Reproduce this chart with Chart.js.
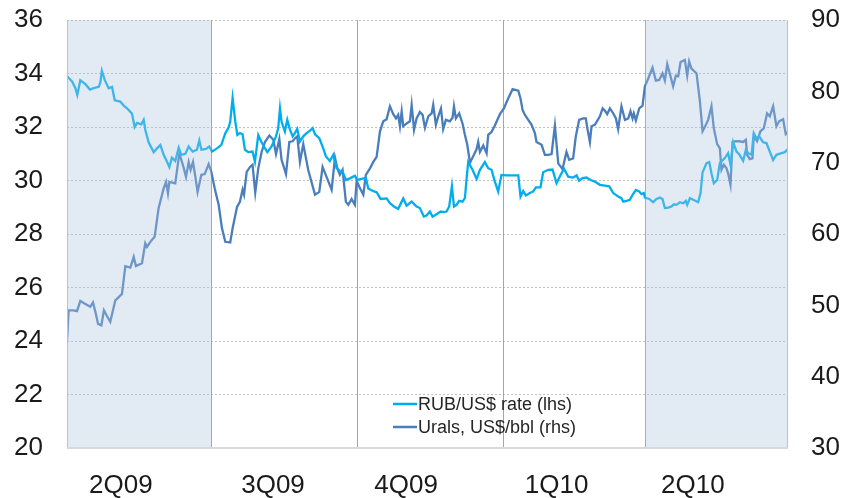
<!DOCTYPE html>
<html lang="en">
<head>
<meta charset="UTF-8">
<title>RUB/US$ rate and Urals</title>
<script src="https://cdn.jsdelivr.net/npm/chart.js@4.4.1/dist/chart.umd.min.js"></script>
<style>
  html, body { margin: 0; padding: 0; background: #fff; }
  #wrap { width: 848px; height: 498px; }
</style>
</head>
<body>
<div id="wrap"><canvas id="chart"></canvas></div>
<script>
// x values are days counted from 1 Apr 2009
const quarterLabels = ['2Q09', '3Q09', '4Q09', '1Q10', '2Q10'];
const quarterLabelDays = [34, 130, 214, 309, 395];
const quarterStarts = [0, 91, 183, 275, 365, 456];
const shadedQuarters = [0, 4];

const rubDays = [0, 3.2, 5.3, 6.5, 8.4, 11.6, 14.5, 16.8, 20, 21, 22, 23.8, 26.3, 28.4, 30.1, 33.6, 35.8, 37.9, 41, 42.7,
  44.2, 46.9, 48.4, 49.4, 51.5, 54.7, 56.8, 58.9, 61, 63.1, 64.6, 66.2, 68.3, 70.5, 72.1, 74.7, 76.8, 79.3, 82, 83.5,
  84.8, 87.7, 89.8, 91.5, 94.6, 97.4, 99.9, 102, 103, 104.5, 106.2, 107.5, 109.1, 110.8, 112.3, 114.4, 117.1, 118.6, 120.7, 122.8,
  124.3, 126.4, 129.1, 131.9, 133.3, 134.4, 135.4, 137.5, 139, 140.7, 142.4, 143.8, 145.3, 147, 149.1, 151.2, 153.3, 155, 156.5, 159.2,
  161.3, 163.4, 165.9, 168, 170.1, 172.2, 174.3, 176, 178.5, 181.7, 183.2, 185.9, 188.6, 190.1, 193.3, 195.4, 197.9, 201.7, 203.8, 206.3,
  209, 212.2, 214.3, 217.5, 220.6, 222.7, 225.2, 226.9, 229, 230.7, 233.2, 235.8, 237.9, 239.5, 241.2, 242.9, 244.2, 245.8, 247.5, 249.6,
  251.1, 252.2, 253.2, 255.9, 258.5, 260.6, 263.7, 265.8, 267.9, 270, 272.1, 274.2, 277.4, 281.6, 284.8, 286.2, 287.9, 289.6, 292.1, 294.2,
  295.9, 298.8, 300.5, 303.7, 306.4, 308.9, 311, 313.6, 316.3, 319.4, 321.6, 323.2, 325.3, 327.9, 330.4, 333.1, 336.3, 339.4, 342.2, 344.7,
  347.8, 349.9, 351, 353.1, 355.2, 356.9, 359, 361.1, 362.6, 364, 364.7, 367.4, 369.9, 372, 374.1, 375.8, 377.3, 379.4, 381.5, 383,
  384.6, 386.8, 388.9, 390.5, 391.4, 393.1, 395.2, 398.3, 399.8, 401.1, 403.6, 405.3, 406.7, 408.2, 410.3, 412, 415.1, 417.2, 418.7, 420.4,
  422.5, 424.2, 426.7, 428.4, 429.9, 432, 433.4, 435.1, 436.8, 439.3, 441.4, 443.5, 445.6, 447.7, 450.9, 453, 455];
const rubRate = [33.9, 33.7, 33.45, 33.2, 33.75, 33.6, 33.4, 33.45, 33.5, 33.65, 34.1, 33.76, 33.45, 33.5, 33.0, 32.95, 32.8, 32.7, 32.5, 32.0,
  32.15, 32.1, 32.27, 31.9, 31.43, 31.06, 31.2, 31.33, 30.96, 30.7, 30.5, 30.85, 30.73, 31.23, 30.96, 31.0, 31.27, 31.08, 31.15, 31.5,
  31.15, 31.18, 31.27, 31.08, 31.2, 31.33, 31.77, 31.98, 32.2, 33.08, 32.2, 31.7, 31.77, 31.73, 31.15, 31.06, 31.08, 30.7, 31.7, 31.43,
  31.27, 31.06, 31.27, 31.65, 31.96, 32.7, 32.2, 31.83, 32.27, 31.9, 31.65, 31.77, 31.93, 31.46, 31.65, 31.77, 31.86, 31.96, 31.73, 31.58,
  31.27, 30.9, 30.73, 30.96, 30.46, 30.36, 30.27, 30.02, 30.08, 30.18, 30.02, 30.06, 30.1, 29.7, 29.6, 29.56, 29.31, 29.33, 29.15, 29.03,
  28.94, 29.33, 29.06, 29.21, 29.03, 28.97, 28.65, 28.69, 28.84, 28.65, 28.74, 28.84, 28.82, 28.84, 29.03, 29.78, 29.03, 29.09, 29.24, 29.21,
  29.34, 30.09, 30.69, 30.4, 30.06, 30.4, 30.69, 30.46, 30.4, 29.96, 29.59, 30.21, 30.19, 30.19, 30.19, 29.4, 29.61, 29.44, 29.53, 29.59,
  29.74, 29.74, 30.31, 30.4, 30.41, 29.9, 30.15, 30.44, 30.14, 30.11, 30.19, 29.99, 30.09, 30.11, 30.02, 29.96, 29.84, 29.81, 29.78, 29.53,
  29.4, 29.34, 29.21, 29.24, 29.28, 29.46, 29.65, 29.59, 29.49, 29.53, 29.36, 29.31, 29.19, 29.31, 29.36, 29.31, 28.97, 28.99, 29.03, 29.11,
  29.09, 29.19, 29.15, 29.24, 29.09, 29.34, 29.28, 29.19, 29.53, 30.31, 30.65, 30.69, 30.27, 29.9, 30.02, 30.65, 30.84, 31.02, 30.59, 31.43,
  31.08, 30.98, 30.74, 31.15, 31.02, 30.96, 31.77, 31.58, 31.65, 31.43, 31.4, 31.08, 30.77, 30.96, 31.02, 31.06, 31.18];

const uralsDays = [0, 1, 4.2, 6.3, 8.4, 11.6, 14.7, 16.4, 17.9, 19.6, 21.7, 23.3, 25.2, 27.3, 28.8, 30.5, 34.7, 36.8, 40, 42.1,
  43.5, 47.3, 49.4, 50.5, 52.6, 55.3, 57.8, 61, 62.5, 63.7, 64.6, 68.3, 70.9, 73.6, 75.1, 76.8, 78, 79.5, 81, 82.4,
  84.8, 86.9, 89.4, 91.1, 93.2, 95.7, 97.8, 99.9, 103, 104.5, 107.3, 109.1, 110.8, 111.7, 113.4, 115.5, 117.1, 118.8, 120.7, 122.8,
  124.9, 127.7, 130.2, 131.9, 134, 135.4, 138.2, 140.3, 142.4, 143.8, 145.3, 147, 149.1, 152.2, 156.5, 159.2, 161.3, 163.8, 167, 169.1,
  170.6, 172.2, 173.9, 176, 177.5, 179.6, 181.7, 182.8, 184.9, 187, 188.6, 191.2, 193.3, 195.4, 197.5, 199.6, 201.7, 203.8, 205.9, 207.6,
  209, 210.1, 211.2, 212.2, 214.3, 216.4, 217.5, 219, 220.6, 222.7, 224.4, 225.9, 228, 230.1, 231.1, 232.8, 234.3, 236, 237.4, 239.1,
  241.6, 243.3, 244.2, 245.4, 247.5, 249.6, 251.1, 252.6, 254.3, 256.8, 258.5, 259.5, 260.6, 262.7, 264.8, 265.8, 267.9, 270, 273.2, 275.7,
  278.4, 281.2, 284.8, 286.2, 287.5, 289, 291.1, 293.2, 295.3, 296.3, 299.5, 301.6, 303.7, 305.8, 307.9, 310, 312.7, 315.2, 316.9, 319.4,
  321.1, 323.2, 325.8, 327.4, 328.3, 330, 331, 333.1, 336.3, 338, 339.4, 340.9, 342.6, 344.7, 346.4, 347.8, 349.9, 352.1, 354.2, 355.6,
  356.9, 357.7, 359, 361.1, 363.2, 364.7, 366.8, 369.5, 371.6, 373.7, 375.8, 377.3, 378.8, 380.4, 382.5, 384.2, 385.7, 387.2, 389.9, 391.4,
  392.6, 394.1, 397.3, 399.4, 401.1, 403.2, 404.6, 406.7, 408.2, 410.3, 412, 413, 414.5, 416.2, 417.2, 418.7, 420, 422.1, 424.2, 426.7,
  428.4, 429.2, 430.9, 432.6, 433.4, 435.5, 437.6, 439.7, 441.8, 443.5, 445.6, 447.7, 449.4, 451.9, 453.6, 455];
const uralsPrice = [44.9, 49.3, 49.3, 49.2, 50.6, 50.2, 49.8, 50.4, 49.1, 47.4, 47.2, 49.3, 48.5, 47.7, 49.1, 50.7, 51.6, 55.5, 55.3, 56.8,
  55.5, 55.9, 58.7, 58.2, 58.9, 59.6, 63.6, 66.4, 67.3, 65.7, 67.3, 67.1, 71.3, 69.3, 68.0, 70.1, 69.0, 70.1, 68.0, 65.9,
  68.3, 68.4, 69.8, 68.7, 66.4, 64.1, 60.8, 58.9, 58.8, 60.8, 63.8, 64.5, 66.2, 65.5, 68.7, 69.4, 69.7, 65.8, 69.2, 71.5,
  72.9, 73.8, 73.2, 71.2, 73.3, 70.4, 68.4, 72.9, 73.0, 73.4, 73.7, 70.1, 72.6, 69.0, 65.5, 65.9, 69.4, 68.0, 66.2, 70.7,
  69.2, 68.3, 69.0, 64.5, 64.1, 64.9, 64.1, 67.5, 66.4, 65.5, 68.3, 69.2, 70.1, 70.8, 74.4, 75.8, 76.1, 77.9, 76.8, 76.2,
  76.7, 75.1, 77.2, 75.1, 75.5, 75.8, 78.1, 74.6, 76.2, 77.1, 76.7, 74.9, 76.5, 76.9, 78.1, 75.3, 76.5, 77.6, 74.7, 76.0,
  75.8, 76.3, 77.9, 76.2, 76.9, 75.5, 73.9, 72.5, 70.0, 71.1, 71.9, 72.9, 71.5, 72.4, 71.3, 73.9, 74.3, 75.2, 76.8, 77.6,
  79.0, 80.3, 80.1, 79.0, 77.4, 76.7, 76.0, 75.3, 74.1, 72.9, 72.5, 71.1, 71.1, 71.2, 75.2, 69.9, 69.1, 71.5, 70.4, 70.6,
  73.7, 76.0, 76.2, 76.2, 74.9, 72.9, 75.1, 75.3, 76.5, 77.6, 77.3, 76.8, 77.6, 76.9, 76.2, 74.7, 77.9, 76.0, 76.2, 77.2,
  76.2, 76.9, 75.9, 77.6, 78.0, 80.7, 81.8, 83.3, 81.5, 81.6, 82.5, 81.5, 83.8, 82.5, 80.7, 82.2, 82.1, 84.1, 84.4, 82.2,
  84.2, 83.2, 82.5, 78.6, 74.4, 75.3, 76.0, 77.9, 74.8, 72.6, 72.0, 69.0, 69.7, 69.2, 68.5, 66.9, 72.9, 73.0, 73.0, 72.9,
  73.2, 71.1, 70.5, 70.6, 73.7, 73.0, 74.4, 74.8, 76.9, 76.5, 77.9, 75.1, 75.8, 76.1, 74.0, 74.3];

const FONT = '"Liberation Sans", Arial, sans-serif';

// shading, quarter lines, frame and the legend inside the plot
const framePlugin = {
  id: 'framePlugin',
  beforeDatasetsDraw(chart) {
    const { ctx, chartArea: a, scales: { x } } = chart;
    ctx.save();
    ctx.strokeStyle = '#a6a6a6';
    ctx.lineWidth = 1;
    quarterStarts.slice(1, -1).forEach(d => {
      const px = Math.round(x.getPixelForValue(d)) + 0.5;
      ctx.beginPath();
      ctx.moveTo(px, a.top);
      ctx.lineTo(px, a.bottom);
      ctx.stroke();
    });
    ctx.restore();
  },
  afterDatasetsDraw(chart) {
    const { ctx, chartArea: a, scales: { x } } = chart;
    ctx.save();
    ctx.fillStyle = 'rgba(175,197,225,0.36)';
    shadedQuarters.forEach(q => {
      const x1 = Math.max(a.left, x.getPixelForValue(quarterStarts[q]));
      const x2 = Math.min(a.right, x.getPixelForValue(quarterStarts[q + 1]));
      ctx.fillRect(x1, a.top, x2 - x1, a.bottom - a.top);
    });
    ctx.strokeStyle = '#c0c0c0';
    ctx.lineWidth = 1;
    [Math.round(a.left) + 0.5, Math.round(a.right) - 0.5].forEach(px => {
      ctx.beginPath();
      ctx.moveTo(px, a.top);
      ctx.lineTo(px, a.bottom);
      ctx.stroke();
    });
    ctx.strokeStyle = '#d9d9d9';
    ctx.lineWidth = 2;
    ctx.beginPath();
    ctx.moveTo(a.left, a.bottom);
    ctx.lineTo(a.right, a.bottom);
    ctx.stroke();

    // legend
    ctx.font = '18px ' + FONT;
    ctx.textBaseline = 'middle';
    ctx.textAlign = 'left';
    chart.data.datasets.forEach((ds, i) => {
      const y = a.bottom - 44 + i * 23;
      const lx = a.left + 326;
      ctx.strokeStyle = ds.borderColor;
      ctx.lineWidth = 2.5;
      ctx.beginPath();
      ctx.moveTo(lx, y);
      ctx.lineTo(lx + 24, y);
      ctx.stroke();
      ctx.fillStyle = '#262626';
      ctx.fillText(ds.label, lx + 25, y + 1);
    });
    ctx.restore();
  }
};

// fixed axis sizes so the plot area sits where it does in the original
function fixVertical(width) {
  return scale => {
    scale.width = width;
    scale.paddingTop = 0;
    scale.paddingBottom = 0;
  };
}

new Chart(document.getElementById('chart'), {
  type: 'line',
  data: {
    datasets: [{
      label: 'RUB/US$ rate (lhs)',
      data: rubDays.map((d, i) => ({ x: d, y: rubRate[i] })),
      borderColor: '#00aeef',
      borderWidth: 2.3,
      pointRadius: 0,
      tension: 0,
      yAxisID: 'y'
    }, {
      label: 'Urals, US$/bbl (rhs)',
      data: uralsDays.map((d, i) => ({ x: d, y: uralsPrice[i] })),
      borderColor: '#4a7ebb',
      borderWidth: 2.3,
      pointRadius: 0,
      tension: 0,
      yAxisID: 'y1'
    }]
  },
  options: {
    responsive: true,
    maintainAspectRatio: false,
    animation: false,
    devicePixelRatio: 1,
    layout: { autoPadding: false, padding: { left: 0, right: 0, top: 20, bottom: 0 } },
    plugins: { legend: { display: false }, tooltip: { enabled: false } },
    scales: {
      x: {
        type: 'linear',
        min: 0,
        max: 455,
        grid: { display: false },
        border: { display: false },
        afterFit: scale => { scale.height = 50; scale.paddingLeft = 0; scale.paddingRight = 0; },
        afterBuildTicks: scale => { scale.ticks = quarterLabelDays.map(v => ({ value: v })); },
        ticks: {
          autoSkip: false,
          maxRotation: 0,
          padding: 17,
          color: '#1a1a1a',
          font: { family: FONT, size: 26, lineHeight: 1 },
          callback: (v) => quarterLabels[quarterLabelDays.indexOf(v)]
        }
      },
      y: {
        position: 'left',
        min: 20,
        max: 36,
        afterFit: fixVertical(67),
        grid: { color: '#bfbfbf', drawTicks: false },
        border: { display: false, dash: [2, 2] },
        ticks: {
          stepSize: 2,
          padding: 24,
          color: '#1a1a1a',
          font: { family: FONT, size: 26, lineHeight: 1 }
        }
      },
      y1: {
        position: 'right',
        min: 30,
        max: 90,
        afterFit: fixVertical(60),
        grid: { display: false, drawTicks: false },
        border: { display: false },
        ticks: {
          stepSize: 10,
          padding: 23,
          color: '#1a1a1a',
          font: { family: FONT, size: 26, lineHeight: 1 }
        }
      }
    }
  },
  plugins: [framePlugin]
});
</script>
</body>
</html>
